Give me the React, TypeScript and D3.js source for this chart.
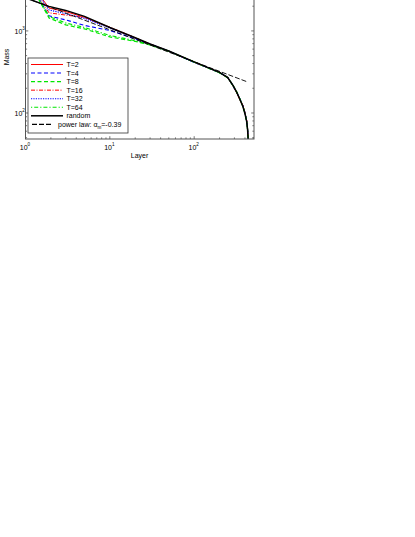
import React from "react";
import * as d3 from "d3";

// layer index shared by every series
const layers = [1, 1.9, 3, 5, 10, 20, 30, 50, 100, 200, 250, 290, 320, 350, 380, 400, 420, 430, 440];

const massT2 = [4700, 1900, 1720, 1470, 1100, 822, 690, 565, 416, 310, 268, 213, 176, 143, 120, 100, 80, 63, 42];
const massT4 = [4700, 1524, 1362, 1167, 1014, 800, 688, 568, 415, 312, 272, 212, 177, 146, 122, 100, 80, 64, 42];
const massT8 = [4700, 1440, 1184, 1058, 845, 745, 675, 565, 418, 308, 270, 216, 180, 147, 120, 99, 79, 63, 42];
const massT16 = [4700, 1660, 1560, 1460, 1110, 828, 692, 568, 417, 313, 273, 211, 177, 145, 123, 101, 81, 64, 42];
const massT32 = [4700, 1800, 1620, 1420, 1085, 820, 690, 566, 414, 311, 271, 214, 178, 146, 121, 100, 80, 63, 42];
const massT64 = [4700, 1500, 1250, 1100, 880, 760, 680, 567, 416, 310, 269, 213, 179, 146, 119, 98, 78, 62, 42];
const massRandom = [2525, 1991, 1778, 1503, 1100, 825, 693, 570, 419, 312, 270, 215, 178, 145, 118, 98, 78, 62, 42];

// fitted power law, two end points
const plLayers = [1, 424];
const plMass = [2530, 240];

const seriesNames = ["T=2", "T=4", "T=8", "T=16", "T=32", "T=64", "random"];

const series = [
  { name: seriesNames[0], mass: massT2, color: "#ff0000", dash: null, w: 1 },
  { name: seriesNames[1], mass: massT4, color: "#0000ff", dash: "4,2.5", w: 1.1 },
  { name: seriesNames[2], mass: massT8, color: "#00e600", dash: "4,2.5", w: 1.2 },
  { name: seriesNames[3], mass: massT16, color: "#ff0000", dash: "4,1.5,1,1.5", w: 1 },
  { name: seriesNames[4], mass: massT32, color: "#0000ff", dash: "1.2,1.2", w: 1.1 },
  { name: seriesNames[5], mass: massT64, color: "#00e600", dash: "1.2,2,4,2", w: 1.2 },
  { name: seriesNames[6], mass: massRandom, color: "#000000", dash: null, w: 1.5 },
];

const FONT = "Arial, 'Liberation Sans', Helvetica, sans-serif";

export default function App() {
  const left = 25.5, right = 254, top = -25, bottom = 139;
  const x = d3.scaleLog().domain([1, 512]).range([left, right]);
  const y = d3.scaleLog().domain([48.2, 4800]).range([bottom, top]);

  const line = d3
    .line<[number, number]>()
    .x((d) => x(d[0]))
    .y((d) => y(d[1]));

  const xTicks = x.ticks();
  const yTicks = y.ticks();
  const isMajor = (v: number) => Math.abs(Math.log10(v) - Math.round(Math.log10(v))) < 1e-9;

  const axisColor = "#555";
  const legX = 28, legY = 58, legW = 100, legH = 75;
  const rowY = (i: number) => 64.5 + i * 8.55;

  return (
    <svg
      width={415}
      height={537}
      style={{ position: "absolute", left: 0, top: 0, background: "#fff" }}
      fontFamily={FONT}
    >
      <defs>
        <clipPath id="plotClip">
          <rect x={left} y={top} width={right - left} height={bottom - top} />
        </clipPath>
      </defs>

      {/* curves */}
      <g clipPath="url(#plotClip)" fill="none">
        {series.map((s) => (
          <path
            key={s.name}
            d={line(layers.map((l, i) => [l, s.mass[i]]) as [number, number][]) || ""}
            stroke={s.color}
            strokeWidth={s.w}
            strokeDasharray={s.dash || undefined}
          />
        ))}
        <path
          d={line(plLayers.map((l, i) => [l, plMass[i]]) as [number, number][]) || ""}
          stroke="#000"
          strokeWidth={0.9}
          strokeDasharray="5,2"
        />
      </g>

      {/* axes box */}
      <rect x={left} y={top} width={right - left} height={bottom - top} fill="none" stroke={axisColor} strokeWidth={1} />

      {/* x ticks */}
      {xTicks.map((t) => {
        const len = isMajor(t) ? 2.8 : 1.6;
        return (
          <g key={"x" + t} stroke={axisColor} strokeWidth={0.8}>
            <line x1={x(t)} x2={x(t)} y1={bottom} y2={bottom - len} />
            <line x1={x(t)} x2={x(t)} y1={top} y2={top + len} />
          </g>
        );
      })}
      {xTicks.filter(isMajor).map((t) => (
        <text key={"xl" + t} x={x(t) - 0.5} y={150} fontSize={7} textAnchor="middle" fill="#000">
          10
          <tspan fontSize={4.6} dy={-3.6}>{Math.round(Math.log10(t))}</tspan>
        </text>
      ))}

      {/* y ticks */}
      {yTicks.map((t) => {
        const len = isMajor(t) ? 2.8 : 1.6;
        return (
          <g key={"y" + t} stroke={axisColor} strokeWidth={0.8}>
            <line x1={left} x2={left + len} y1={y(t)} y2={y(t)} />
            <line x1={right} x2={right - len} y1={y(t)} y2={y(t)} />
          </g>
        );
      })}
      {yTicks.filter(isMajor).map((t) => (
        <text key={"yl" + t} x={14.5} y={y(t) + 2.6} fontSize={7} fill="#000">
          10
          <tspan fontSize={4.6} dy={-3.6}>{Math.round(Math.log10(t))}</tspan>
        </text>
      ))}

      {/* axis labels */}
      <text x={139.5} y={157.5} fontSize={7} textAnchor="middle" fill="#000">
        Layer
      </text>
      <text
        transform={`translate(9,${(top + bottom) / 2}) rotate(-90)`}
        fontSize={7}
        textAnchor="middle"
        fill="#000"
      >
        Mass
      </text>

      {/* legend */}
      <rect x={legX} y={legY} width={legW} height={legH} fill="#fff" stroke="#333" strokeWidth={0.8} />
      {series.map((s, i) => (
        <g key={"lg" + s.name}>
          <line
            x1={31}
            x2={63}
            y1={rowY(i)}
            y2={rowY(i)}
            stroke={s.color}
            strokeWidth={s.w}
            strokeDasharray={s.dash || undefined}
          />
          <text x={66.5} y={rowY(i) + 2.5} fontSize={7} fill="#000">
            {s.name}
          </text>
        </g>
      ))}
      <line x1={32} x2={52} y1={rowY(7)} y2={rowY(7)} stroke="#000" strokeWidth={1.2} strokeDasharray="5,2" />
      <text x={58} y={rowY(7) + 2.5} fontSize={7} fill="#000">
        power law: α
        <tspan fontSize={4.6} dy={2}>m</tspan>
        <tspan dy={-2}>=-0.39</tspan>
      </text>
    </svg>
  );
}
